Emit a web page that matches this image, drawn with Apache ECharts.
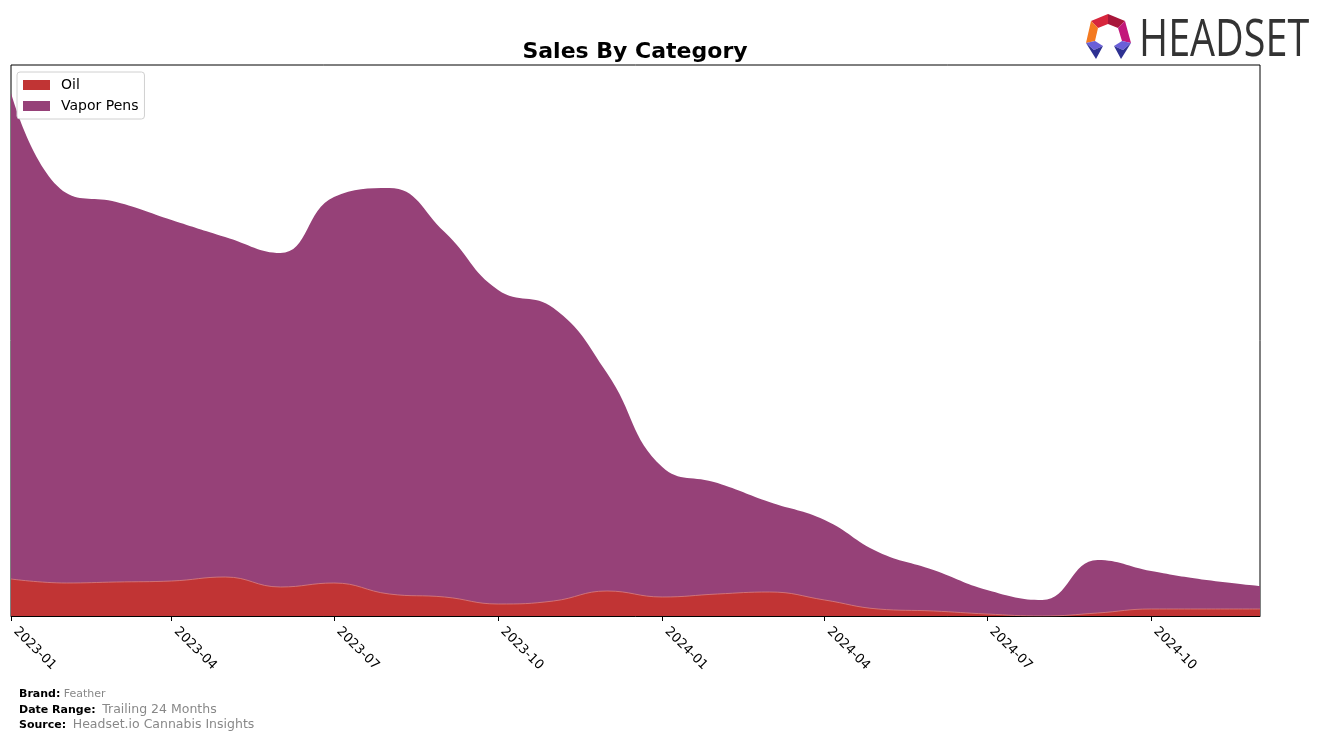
<!DOCTYPE html>
<html>
<head>
<meta charset="utf-8">
<script src="https://cdn.jsdelivr.net/npm/echarts@6/dist/echarts.min.js"></script>
<style>
html,body{margin:0;padding:0;background:#fff;}
#chart{width:1324px;height:740px;}
</style>
</head>
<body>
<div id="chart"></div>
<script>
const months = ['2023-01','2023-02','2023-03','2023-04','2023-05','2023-06','2023-07','2023-08','2023-09','2023-10','2023-11','2023-12',
                '2024-01','2024-02','2024-03','2024-04','2024-05','2024-06','2024-07','2024-08','2024-09','2024-10','2024-11','2024-12'];
const oil = [37,33,34,35,39,29,33,22,19,12,15,25,19,22,24,16,7,5,2,0,3,7,7,7];
const vaporPens = [486,390,380,361,340,334,386,406,365,314,293,218,130,111,90,80,57,41,24,16,53,38,29,23];
const tickLabels = ['2023-01','2023-04','2023-07','2023-10','2024-01','2024-04','2024-07','2024-10'];
const seriesNames = ['Oil','Vapor Pens'];
const colors = ['#c13434','#964178'];

const toTs = m => Date.UTC(+m.slice(0, 4), +m.slice(5, 7) - 1, 1);
const tickValues = tickLabels.map(toTs);
const fmt = v => { const d = new Date(v); return d.getUTCFullYear() + '-' + String(d.getUTCMonth() + 1).padStart(2, '0'); };
const mkData = arr => months.map((m, i) => [toTs(m), arr[i]]);
// stacked: Vapor Pens sits on top of Oil
const vaporStacked = vaporPens.map((v, i) => v + oil[i]);

const chart = echarts.init(document.getElementById('chart'));
const font = 'DejaVu Sans';

chart.setOption({
  animation: false,
  backgroundColor: '#fff',
  title: {
    text: 'Sales By Category',
    left: 630, top: 36, textAlign: 'center',
    textStyle: {fontFamily: font, fontWeight: 'bold', fontSize: 22, color: '#000'}
  },
  legend: {
    orient: 'vertical', left: 17, top: 72,
    padding: [6, 6, 6, 6], itemGap: 7,
    itemWidth: 27, itemHeight: 10,
    borderColor: '#d0d0d0', borderWidth: 1, borderRadius: 3,
    backgroundColor: '#fff',
    textStyle: {fontFamily: font, fontSize: 14, color: '#000', padding: [0, 0, 0, 6]},
    data: seriesNames.map((n, i) => ({name: n, itemStyle: {color: colors[i]}, icon: 'rect'}))
  },
  grid: {left: 11, right: 64, top: 65, bottom: 124, show: true, borderColor: '#000', borderWidth: 1, backgroundColor: 'transparent'},
  xAxis: {
    type: 'value',
    min: toTs(months[0]),
    max: toTs(months[months.length - 1]),
    axisLine: {show: true, onZero: false, lineStyle: {color: '#000', width: 1}},
    axisTick: {show: true, customValues: tickValues, length: 5, lineStyle: {color: '#000'}},
    splitLine: {show: false},
    axisLabel: {
      customValues: tickValues, rotate: -45, margin: 18, verticalAlign: 'bottom',
      fontFamily: font, fontSize: 13, color: '#000',
      formatter: v => fmt(v)
    }
  },
  yAxis: {type: 'value', min: 0, max: 551, show: false, splitLine: {show: false}},
  series: [
    {name: seriesNames[1], type: 'line', smooth: 0.45, symbol: 'none', z: 1,
     lineStyle: {width: 0}, itemStyle: {color: colors[1]}, areaStyle: {color: colors[1], opacity: 1}, data: mkData(vaporStacked)},
    {name: seriesNames[0], type: 'line', smooth: 0.45, symbol: 'none', z: 2,
     lineStyle: {width: 0.8, color: '#d98080'}, itemStyle: {color: colors[0]}, areaStyle: {color: colors[0], opacity: 1}, data: mkData(oil)}
  ],
  graphic: [
    {type: 'polygon', shape: {points: [[1091,21],[1108,14],[1108,24],[1098,28]]}, style: {fill: '#d7263d'}},
    {type: 'polygon', shape: {points: [[1108,14],[1125,21],[1118,28],[1108,24]]}, style: {fill: '#a8163a'}},
    {type: 'polygon', shape: {points: [[1091,21],[1098,28],[1095,41],[1086,43]]}, style: {fill: '#f47a20'}},
    {type: 'polygon', shape: {points: [[1125,21],[1131,43],[1122,41],[1118,28]]}, style: {fill: '#c2187a'}},
    {type: 'polygon', shape: {points: [[1086,43],[1095,41],[1103,46],[1094,50]]}, style: {fill: '#6a5fd8'}},
    {type: 'polygon', shape: {points: [[1086,43],[1094,50],[1103,46],[1096,59]]}, style: {fill: '#2e3192'}},
    {type: 'polygon', shape: {points: [[1131,43],[1122,41],[1114,46],[1123,50]]}, style: {fill: '#6a5fd8'}},
    {type: 'polygon', shape: {points: [[1131,43],[1123,50],[1114,46],[1121,59]]}, style: {fill: '#2e3192'}},
    {type: 'text', x: 1139, y: 41, scaleX: 0.76, originX: 0,
     style: {text: 'HEADSET', fill: '#333', font: '52px "Open Sans"', textVerticalAlign: 'middle'}},
    {type: 'text', x: 19, y: 694, style: {
      text: '{b|Brand:} {g|Feather}', textVerticalAlign: 'middle',
      rich: {b: {fontFamily: font, fontWeight: 'bold', fontSize: 11, fill: '#000'}, g: {fontFamily: font, fontSize: 11, fill: '#888'}}}},
    {type: 'text', x: 19, y: 710, style: {
      text: '{b|Date Range:}  {g|Trailing 24 Months}', textVerticalAlign: 'middle',
      rich: {b: {fontFamily: font, fontWeight: 'bold', fontSize: 11, fill: '#000'}, g: {fontFamily: font, fontSize: 12.5, fill: '#888'}}}},
    {type: 'text', x: 19, y: 725, style: {
      text: '{b|Source:}  {g|Headset.io Cannabis Insights}', textVerticalAlign: 'middle',
      rich: {b: {fontFamily: font, fontWeight: 'bold', fontSize: 11, fill: '#000'}, g: {fontFamily: font, fontSize: 12.5, fill: '#888'}}}}
  ]
});
</script>
</body>
</html>
